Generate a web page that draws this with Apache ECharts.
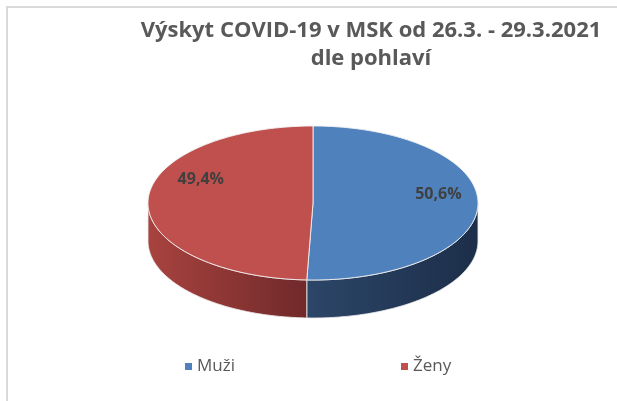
<!DOCTYPE html>
<html>
<head>
<meta charset="utf-8">
<script src="https://cdn.jsdelivr.net/npm/echarts@6/dist/echarts.min.js"></script>
<style>
html,body{margin:0;padding:0;background:#fff;}
#chart{width:617px;height:401px;}
</style>
</head>
<body>
<div id="chart"></div>
<script>
// ---- data ----
const categories = ['Muži', 'Ženy'];
const values = [50.6, 49.4];
const valueLabels = ['50,6%', '49,4%'];
const titleText = 'Výskyt COVID-19 v MSK od 26.3. - 29.3.2021\ndle pohlaví';

// ---- styles / layout ----
const topColors = ['#4f81bd', '#c0504d'];
const sideGradients = [
  ['#2c4668', '#1c2e49'],
  ['#a8433f', '#70292a']
];
const FONT = '"Open Sans", Lato, sans-serif';
const CX = 313, CY = 203, RX = 165, RY = 77, DEPTH = 38;
const labelRadius = [0.76, 0.68];
const labelYShift = [-10, -23];

const total = values.reduce((a, b) => a + b, 0);

function pt(theta, dy) {
  return [CX + RX * Math.sin(theta), CY - RY * Math.cos(theta) + (dy || 0)];
}

function makeRenderItem(idx) {
  return function (params, api) {
    const v = api.value(0);
    let before = 0;
    for (let i = 0; i < idx; i++) before += values[i];
    const a0 = before / total * Math.PI * 2;
    const a1 = a0 + v / total * Math.PI * 2;
    const N = 120;
    const topPts = [[CX, CY]];
    for (let i = 0; i <= N; i++) topPts.push(pt(a0 + (a1 - a0) * i / N));
    const children = [];
    const s0 = Math.max(a0, Math.PI / 2), s1 = Math.min(a1, Math.PI * 1.5);
    if (s1 > s0) {
      const sidePts = [];
      for (let i = 0; i <= N; i++) sidePts.push(pt(s0 + (s1 - s0) * i / N));
      for (let i = N; i >= 0; i--) sidePts.push(pt(s0 + (s1 - s0) * i / N, DEPTH));
      children.push({
        type: 'polygon',
        z2: 1,
        shape: { points: sidePts },
        style: {
          fill: new echarts.graphic.LinearGradient(0, 0, 1, 0, [
            { offset: 0, color: sideGradients[idx][0] },
            { offset: 1, color: sideGradients[idx][1] }
          ]),
          stroke: 'rgba(235,235,235,0.85)',
          lineWidth: 1
        }
      });
    }
    children.push({
      type: 'polygon',
      z2: 2,
      shape: { points: topPts },
      style: { fill: topColors[idx], stroke: 'rgba(240,240,240,0.9)', lineWidth: 1 }
    });
    const mid = (a0 + a1) / 2;
    const lp = [CX + RX * labelRadius[idx] * Math.sin(mid), CY - RY * labelRadius[idx] * Math.cos(mid) + labelYShift[idx]];
    children.push({
      type: 'text',
      z2: 3,
      x: lp[0], y: lp[1],
      style: {
        text: valueLabels[idx],
        fill: '#404040',
        font: 'bold 16px ' + FONT,
        align: 'center',
        verticalAlign: 'middle'
      }
    });
    return { type: 'group', children: children };
  };
}

const series = categories.map((name, i) => ({
  type: 'custom',
  name: name,
  coordinateSystem: 'none',
  color: topColors[i],
  z: 2 + i,
  data: [[values[i]]],
  renderItem: makeRenderItem(i),
  silent: true,
  animation: false
}));

const chart = echarts.init(document.getElementById('chart'));
chart.setOption({
  animation: false,
  backgroundColor: '#ffffff',
  title: {
    text: titleText,
    left: 366,
    top: 12,
    textAlign: 'center',
    textStyle: {
      fontFamily: FONT,
      fontWeight: 'bold',
      fontSize: 22,
      color: '#595959',
      lineHeight: 28
    }
  },
  legend: {
    data: categories,
    left: 180,
    top: 353,
    icon: 'rect',
    itemWidth: 7,
    itemHeight: 7,
    itemGap: 166,
    textStyle: { fontFamily: FONT, fontSize: 17, color: '#595959' }
  },
  graphic: [{
    type: 'rect',
    silent: true,
    shape: { x: 7, y: 7, width: 700, height: 500 },
    style: { fill: 'none', stroke: '#d9d9d9', lineWidth: 2 }
  }],
  series: series
});
</script>
</body>
</html>
